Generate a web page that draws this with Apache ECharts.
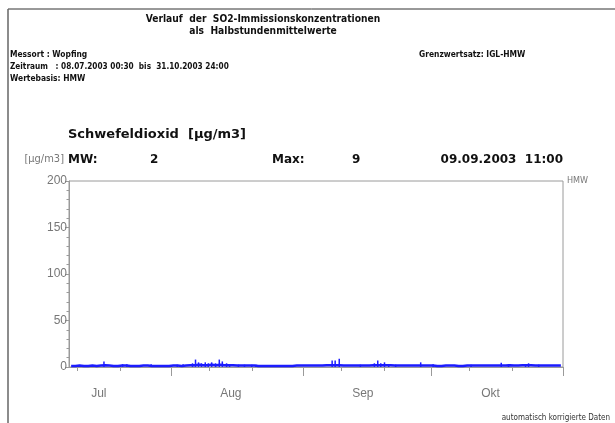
<!DOCTYPE html>
<html>
<head>
<meta charset="utf-8">
<script src="https://cdn.jsdelivr.net/npm/echarts@6/dist/echarts.min.js"></script>
<style>
  html, body { margin: 0; padding: 0; background: #fff; }
  #chart { width: 615px; height: 423px; }
</style>
</head>
<body>
<div id="chart"></div>
<script>
/* SO2 Halbstundenmittelwerte, Messort Wopfing, 08.07.–31.10.2003 */

// daily baseline level (µg/m3), one value per day from 08.07.2003
const baseDays = '2003-07-08';
const baseline = [
  1, 1, 1.5, 1, 1, 1.5, 1, 1.5, 2, 1.5, 1, 1, 1.5, 1.5, 1, 1, 1, 1.5, 1.5, 1, 1, 1, 1, 1, // Jul
  1.5, 1.5, 1, 1.5, 2, 2, 2.5, 2, 2, 2.5, 2, 2.5, 2, 2, 2, 1.5, 1.5, 1.5, 1.5, 1.5, 1, 1, 1, 1, 1, 1, 1, 1, 1, 1.5, 1.5, // Aug
  1.5, 1.5, 1.5, 1.5, 1.5, 2, 2, 2, 2, 1.5, 1.5, 1.5, 1.5, 1.5, 1.5, 1.5, 2, 2, 2, 2, 2, 1.5, 1.5, 1.5, 1.5, 1.5, 1.5, 1.5, 1.5, 1.5, // Sep
  1.5, 1, 1, 1.5, 1.5, 1.5, 1, 1, 1.5, 1.5, 1.5, 1.5, 1.5, 1.5, 1.5, 1.5, 1.5, 1.5, 2, 1.5, 1.5, 2, 2, 2, 1.5, 1.5, 1.5, 1.5, 1.5, 1.5, 1.5 // Okt
];

// short peaks (half-hour values above the baseline)
const peakTimes = [
  '2003-07-16 05:00', '2003-07-20 14:00', '2003-07-21 14:00', '2003-07-27 07:00',
  '2003-08-02 10:00', '2003-08-03 19:00', '2003-08-06 00:00', '2003-08-06 17:00',
  '2003-08-07 10:00', '2003-08-08 02:00', '2003-08-09 00:00', '2003-08-09 17:00',
  '2003-08-10 12:00', '2003-08-11 10:00', '2003-08-12 07:00', '2003-08-13 00:00',
  '2003-08-14 00:00', '2003-08-14 17:00', '2003-08-16 19:00', '2003-08-18 05:00',
  '2003-08-19 22:00', '2003-08-20 22:00', '2003-09-07 19:00', '2003-09-08 12:00',
  '2003-09-09 11:00', '2003-09-14 10:00', '2003-09-17 17:00', '2003-09-18 12:00',
  '2003-09-19 05:00', '2003-09-20 02:00', '2003-09-21 02:00', '2003-09-22 17:00',
  '2003-09-28 14:00', '2003-10-01 12:00', '2003-10-10 10:00', '2003-10-17 12:00',
  '2003-10-19 05:00', '2003-10-23 05:00', '2003-10-23 22:00', '2003-10-26 07:00'
];
const peakValues = [
  6, 3, 3, 3,
  2.5, 3, 4, 8,
  5, 4, 5, 4,
  5, 4, 8, 6,
  4, 3, 2.5, 2.5,
  2.5, 2.5, 7, 7,
  9, 2.5, 4, 7,
  4, 5, 3, 2.5,
  5, 3, 2.5, 4.5,
  3, 3, 4, 2.5
];

const monthStarts = ['2003-08-01 00:00', '2003-09-01 00:00', '2003-10-01 00:00', '2003-11-01 00:00'];
const minorTicks = ['2003-07-10 00:00', '2003-07-20 00:00', '2003-08-10 00:00', '2003-08-20 00:00',
  '2003-09-10 00:00', '2003-09-20 00:00', '2003-10-10 00:00', '2003-10-20 00:00'];
const monthLabelAt = ['2003-07-15 00:00', '2003-08-15 00:00', '2003-09-15 00:00', '2003-10-15 00:00'];
const monthNames = ['Jan', 'Feb', 'Mär', 'Apr', 'Mai', 'Jun', 'Jul', 'Aug', 'Sep', 'Okt', 'Nov', 'Dez'];

const xMin = '2003-07-08 00:00';
const xMax = '2003-11-01 00:00';

function ts(s) {
  const m = s.match(/(\d+)-(\d+)-(\d+) (\d+):(\d+)/);
  return new Date(+m[1], +m[2] - 1, +m[3], +m[4], +m[5]).getTime();
}

const DAY = 86400000;
const baseData = baseline.map((v, i) => [ts(baseDays + ' 12:00') + i * DAY, v]);
const peakData = peakTimes.map((t, i) => [ts(t), peakValues[i]]);

const AXIS = '#9a9a9a';
const LBL = '#777';
const BLUE = '#1c1cff';
const NARROW = "'Liberation Sans Narrow', 'DejaVu Sans Condensed', 'Arial Narrow', sans-serif";
const WIDE = "'DejaVu Sans', Verdana, sans-serif";

const chart = echarts.init(document.getElementById('chart'), null, { renderer: 'canvas' });

function txt(x, y, s, o) {
  o = o || {};
  return {
    type: 'text', x: x, y: y, z: 10,
    style: {
      text: s, fill: o.color || '#111',
      font: (o.weight || 'bold') + ' ' + (o.size || 10) + 'px ' + (o.family || NARROW),
      textAlign: o.align || 'left', textVerticalAlign: 'middle'
    }
  };
}

chart.setOption({
  animation: false,
  backgroundColor: '#fff',
  grid: { left: 69, right: 52, top: 181, bottom: 56, show: true, borderColor: AXIS, borderWidth: 1 },
  xAxis: [
    {
      type: 'value', min: ts(xMin), max: ts(xMax),
      axisLine: { show: true, lineStyle: { color: AXIS, width: 1 } },
      axisTick: { show: true, length: 9, customValues: monthStarts.map(ts), lineStyle: { color: AXIS } },
      axisLabel: {
        customValues: monthLabelAt.map(ts), margin: 21, color: LBL, fontSize: 12,
        fontFamily: 'Liberation Sans, Arial, sans-serif',
        formatter: v => monthNames[new Date(v).getMonth()]
      },
      splitLine: { show: false }
    },
    {
      type: 'value', min: ts(xMin), max: ts(xMax), position: 'bottom',
      axisLine: { show: false },
      axisTick: { show: true, length: 4, customValues: minorTicks.map(ts), lineStyle: { color: AXIS } },
      axisLabel: { show: false },
      splitLine: { show: false }
    }
  ],
  yAxis: {
    type: 'value', min: 0, max: 200, interval: 50,
    axisLine: { show: true, lineStyle: { color: AXIS } },
    axisTick: { show: true, length: 4, lineStyle: { color: AXIS } },
    minorTick: { show: true, splitNumber: 5, length: 2.5, lineStyle: { color: AXIS } },
    splitLine: { show: false },
    axisLabel: { color: LBL, fontSize: 12, margin: 2, fontFamily: 'Liberation Sans, Arial, sans-serif' }
  },
  series: [
    {
      type: 'bar', data: peakData, barWidth: 1.5, z: 3,
      itemStyle: { color: BLUE }
    },
    {
      type: 'line', data: baseData, symbol: 'none', z: 4,
      lineStyle: { color: BLUE, width: 2.5 }
    }
  ],
  graphic: [
    { type: 'line', shape: { x1: 8, y1: 9, x2: 615, y2: 9 }, style: { stroke: '#333', lineWidth: 1 } },
    { type: 'line', shape: { x1: 8, y1: 9, x2: 8, y2: 423 }, style: { stroke: '#666', lineWidth: 1.5 } },
    txt(263, 19, 'Verlauf  der  SO2-Immissionskonzentrationen', { size: 10.2, align: 'center' }),
    txt(263, 31, 'als  Halbstundenmittelwerte', { size: 10.2, align: 'center' }),
    txt(10, 55, 'Messort : Wopfing', { size: 8.4 }),
    txt(10, 67, 'Zeitraum   : 08.07.2003 00:30  bis  31.10.2003 24:00', { size: 8.2 }),
    txt(10, 79, 'Wertebasis: HMW', { size: 8.4 }),
    txt(419, 55, 'Grenzwertsatz: IGL-HMW', { size: 8.4 }),
    txt(68, 135, 'Schwefeldioxid  [µg/m3]', { size: 13, family: WIDE }),
    txt(64, 159, '[µg/m3]', { size: 11, weight: 'normal', color: LBL, align: 'right', family: NARROW }),
    txt(68, 160, 'MW:', { size: 12, family: WIDE }),
    txt(150, 160, '2', { size: 12, family: WIDE }),
    txt(272, 160, 'Max:', { size: 12, family: WIDE }),
    txt(352, 160, '9', { size: 12, family: WIDE }),
    txt(563, 160, '09.09.2003  11:00', { size: 12, family: WIDE, align: 'right' }),
    txt(567, 181, 'HMW', { size: 9, weight: 'normal', color: LBL }),
    txt(610, 418, 'automatisch korrigierte Daten', { size: 8, weight: 'normal', color: '#333', align: 'right' })
  ]
});
</script>
</body>
</html>
